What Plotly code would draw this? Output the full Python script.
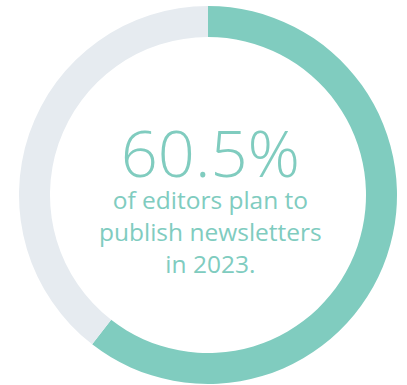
import plotly.graph_objects as go

# Share of editors planning to publish newsletters
labels = ["Plan to publish newsletters", "Other"]
share = 60.5
values = [share, round(100 - share, 1)]
caption_lines = ["of editors plan to", "publish newsletters", "in 2023."]

teal = "#80CCBF"
grey = "#E6EBF0"

W, H = 407, 385

fig = go.Figure(
    go.Pie(
        labels=labels,
        values=values,
        hole=0.836,
        sort=False,
        direction="clockwise",
        rotation=0,
        marker=dict(colors=[teal, grey], line=dict(width=0)),
        textinfo="none",
        hoverinfo="label+percent",
        showlegend=False,
        domain=dict(x=[19 / W, 397 / W], y=[1 / H, 379 / H]),
    )
)

# Centre label: big percentage followed by the caption, one text block
headline = f"<span style='font-size:65px;font-weight:300'>{share}%</span>"
center_text = "<br>".join([headline] + caption_lines)

fig.update_layout(
    width=W,
    height=H,
    margin=dict(l=0, r=0, t=0, b=0),
    paper_bgcolor="white",
    plot_bgcolor="white",
    annotations=[
        dict(
            text=center_text,
            x=210 / W, y=1 - 194 / H,
            xref="paper", yref="paper",
            xanchor="center", yanchor="middle",
            align="center",
            showarrow=False,
            font=dict(family="Open Sans", size=24.5, color=teal, weight=400),
        )
    ],
)

fig.write_html("out.html")
